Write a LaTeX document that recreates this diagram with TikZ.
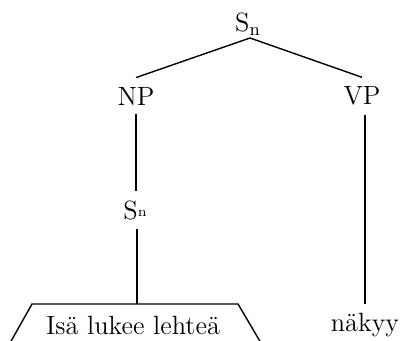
\documentclass[tikz,border=0pt]{standalone}
\begin{document}
\begin{tikzpicture}[x=0.5pt,y=-0.5pt,
  lab/.style={inner sep=4.5pt,font=\fontsize{13.2}{16}\selectfont},
  edge/.style={line width=0.7pt}]
\useasboundingbox (0,0) rectangle (406,341);
\node[lab] (S) at (248,24) {S$_{\mathrm{n}}$};
\node[lab] (NP) at (136,96) {NP};
\node[lab] (VP) at (362,96) {VP};
\node[lab] (S2) at (135,210) {S\raisebox{1.5pt}{\scriptsize n}};
\node[lab] (txt) at (133,325) {Is\"a lukee lehte\"a};
\node[lab] (nak) at (365,325) {n\"akyy};
\coordinate (apex) at (250,38);
\coordinate (tl) at (32,304);
\coordinate (tr) at (238,304);
\coordinate (top) at (137,304);
\coordinate (bl) at (10,343);
\coordinate (br) at (261,343);
\draw[edge] (apex) -- (NP.north);
\draw[edge] (apex) -- (VP.north);
\draw[edge] (NP.south) -- (S2.north -| NP.south);
\draw[edge] (S2.south -| top) -- (top);
\draw[edge] (bl) -- (tl) -- (tr) -- (br);
\draw[edge] (VP.south -| nak) -- (nak.north);
\end{tikzpicture}
\end{document}
